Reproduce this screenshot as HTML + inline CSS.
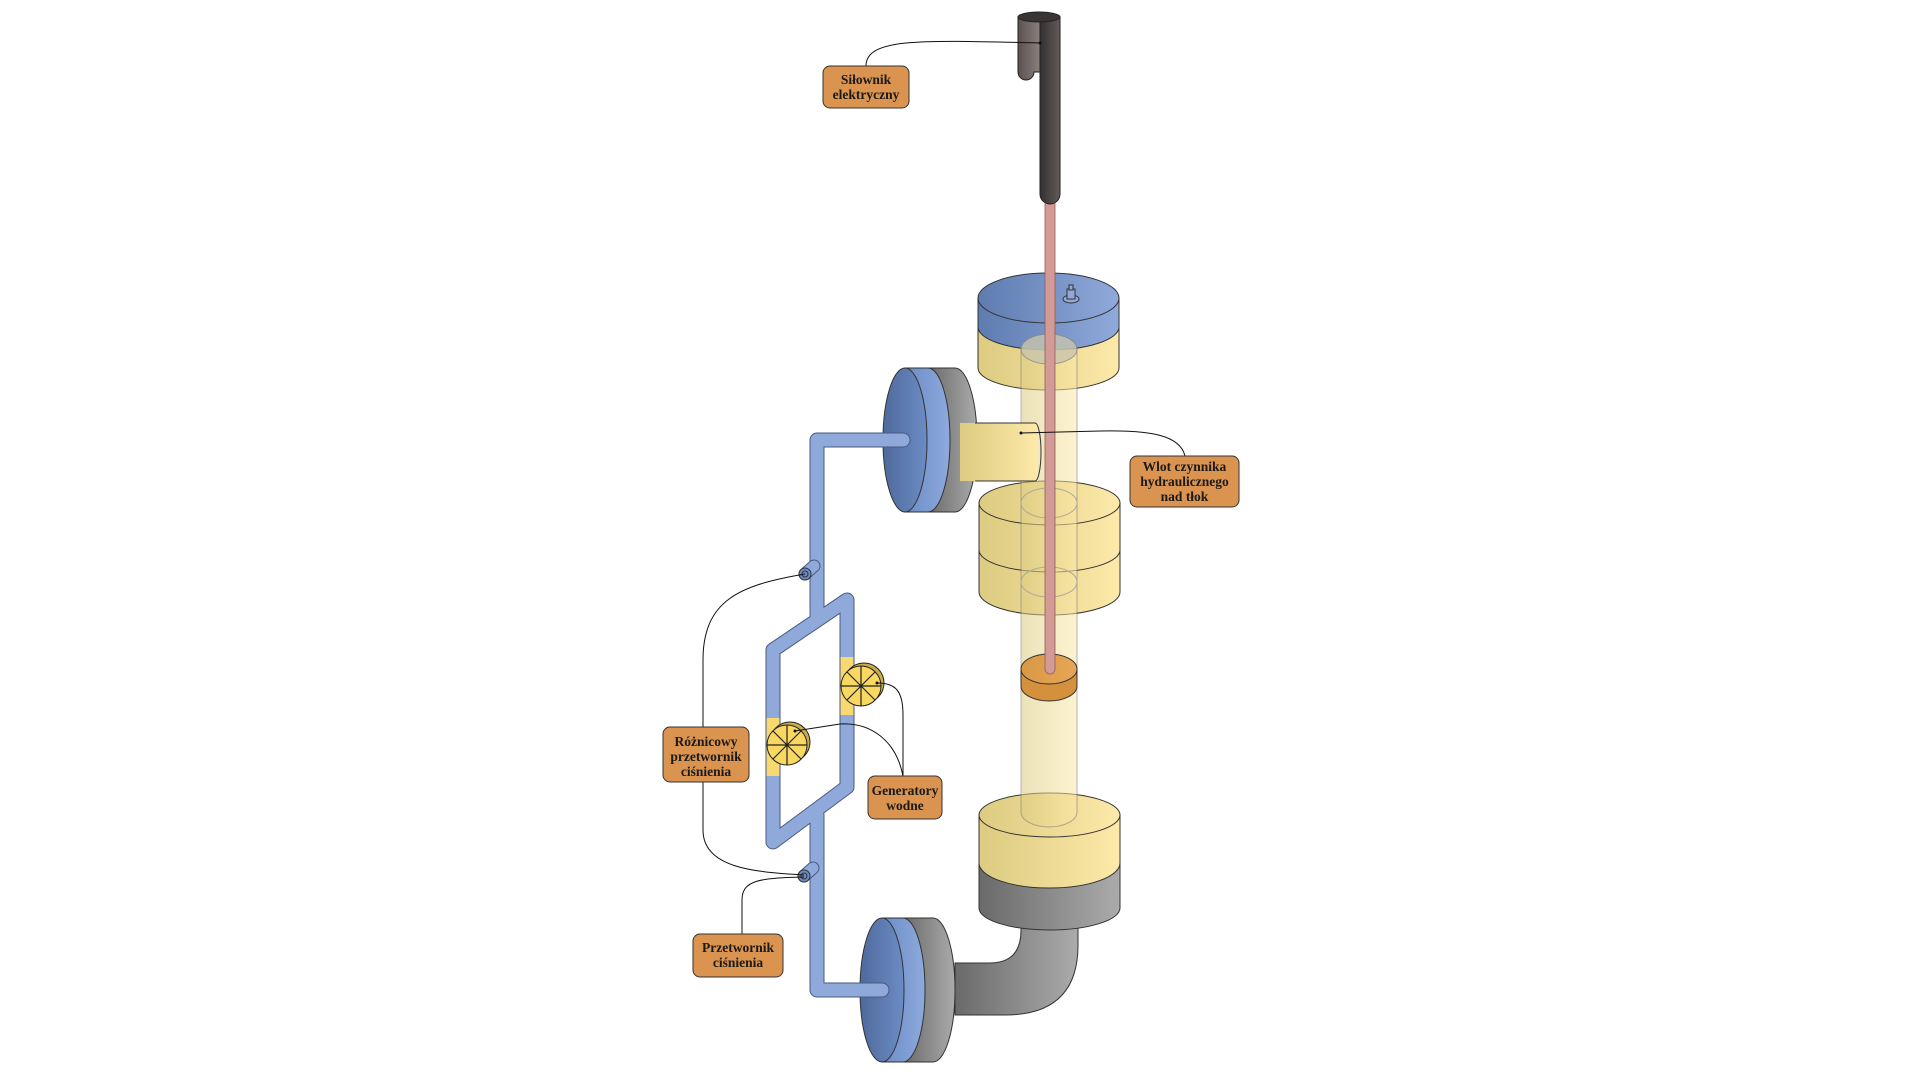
<!DOCTYPE html>
<html><head><meta charset="utf-8"><style>
html,body{margin:0;padding:0;background:#fff;}
svg{display:block;}
text{font-family:"Liberation Serif",serif;font-weight:bold;font-size:13.5px;fill:#1a1a1a;}
</style></head><body>
<svg width="1920" height="1080" viewBox="0 0 1920 1080" xmlns="http://www.w3.org/2000/svg">
<defs>
<linearGradient id="yel" x1="0" x2="1"><stop offset="0" stop-color="#dccb80"/><stop offset="1" stop-color="#fde9a9"/></linearGradient>
<linearGradient id="blu" x1="0" x2="1"><stop offset="0" stop-color="#5e7cb0"/><stop offset="1" stop-color="#8fa9da"/></linearGradient>
<linearGradient id="blu2" x1="0" x2="1"><stop offset="0" stop-color="#4f6a9c"/><stop offset="1" stop-color="#6b8cc4"/></linearGradient>
<linearGradient id="bluB" x1="0" x2="1"><stop offset="0" stop-color="#6a8cc6"/><stop offset="1" stop-color="#8eaadd"/></linearGradient>
<linearGradient id="gry" x1="0" x2="1"><stop offset="0" stop-color="#6a6a6a"/><stop offset="1" stop-color="#ababab"/></linearGradient>
<linearGradient id="act" x1="0" x2="1"><stop offset="0" stop-color="#353131"/><stop offset="1" stop-color="#625b59"/></linearGradient>
<linearGradient id="act2" x1="0" x2="1"><stop offset="0" stop-color="#5a5150"/><stop offset="1" stop-color="#8a807e"/></linearGradient>
<linearGradient id="org" x1="0" x2="1"><stop offset="0" stop-color="#d99844"/><stop offset="1" stop-color="#e5a656"/></linearGradient>
</defs>
<g stroke="#333" stroke-width="1">
<!-- elbow -->
<path d="M1021 915 L1021 930 Q1021 963 990 963 L955 963 L955 1015 L1005 1015 Q1078 1015 1078 945 L1078 915 Z" fill="url(#gry)"/>
<!-- bottom flange -->
<path d="M979 863 L979 908 A70.5 22 0 0 0 1120 908 L1120 863 Z" fill="url(#gry)"/>
<path d="M979 815 L979 863 A70.5 25 0 0 0 1120 863 L1120 815 Z" fill="url(#yel)"/>
<ellipse cx="1049.5" cy="815" rx="70.5" ry="22" fill="url(#yel)"/>
<!-- middle flange -->
<path d="M979 550 L979 592 A70.5 23 0 0 0 1120 592 L1120 550 Z" fill="url(#yel)"/>
<path d="M979 503 L979 550 A70.5 22 0 0 0 1120 550 L1120 503 Z" fill="url(#yel)"/>
<ellipse cx="1049.5" cy="503" rx="70.5" ry="22" fill="url(#yel)"/>
<!-- top flange -->
<path d="M978 327 L978 368 A70.5 22 0 0 0 1119 368 L1119 327 Z" fill="url(#yel)"/>
<path d="M978 298 L978 327 A70.5 23 0 0 0 1119 327 L1119 298 Z" fill="url(#blu)"/>
<ellipse cx="1048.5" cy="298" rx="70.5" ry="25" fill="url(#blu)"/>
<!-- knob -->
<ellipse cx="1071" cy="299" rx="8" ry="4" fill="#8fa9da"/>
<rect x="1067" y="289" width="8" height="10" fill="#8fa9da"/>
<rect x="1069" y="285" width="4" height="5" fill="#8fa9da"/>
<!-- inner tube translucent -->
<g opacity="0.55">
<path d="M1021 349 L1021 812 A28 15 0 0 0 1077 812 L1077 349 Z" fill="url(#yel)" stroke="#777"/>
</g>
<ellipse cx="1049" cy="349" rx="28" ry="15" fill="#c9c6ae" stroke="#888" opacity="0.8"/>
<ellipse cx="1049" cy="503" rx="28" ry="15" fill="none" stroke="#aa9"/>
<ellipse cx="1049" cy="582" rx="28" ry="15" fill="none" stroke="#aa9"/>
<!-- piston -->
<path d="M1021 669 L1021 686 A28 15 0 0 0 1077 686 L1077 669 Z" fill="#d4903c"/>
<ellipse cx="1049" cy="669" rx="28" ry="15" fill="url(#org)"/>
<!-- upper-left flange -->
<path d="M928 368 L955 368 A22 72 0 0 1 955 512 L928 512 Z" fill="url(#gry)"/>
<rect x="960" y="423" width="78" height="58" fill="url(#yel)" stroke="none"/>
<path d="M975 423 L1035 423 A6 29 0 0 1 1035 481 L975 481" fill="none"/>
<path d="M905 368 L928 368 A22 72 0 0 1 928 512 L905 512 Z" fill="url(#bluB)"/>
<ellipse cx="905" cy="440" rx="22" ry="72" fill="url(#blu2)"/>
<!-- bottom-left flange -->
<path d="M903 918 L933 918 A22 72 0 0 1 933 1062 L903 1062 Z" fill="url(#gry)"/>
<path d="M882 918 L903 918 A22 72 0 0 1 903 1062 L882 1062 Z" fill="url(#bluB)"/>
<ellipse cx="882" cy="990" rx="22" ry="72" fill="url(#blu2)"/>
</g>
<!-- pipes -->
<g fill="none" stroke-linejoin="round" stroke-linecap="round">
<g stroke="#4a5a80" stroke-width="15">
<path d="M903 440 L817 440 L817 615"/>
<path d="M773 650 L773 842 L847 787 L847 600 Z"/>
<path d="M817 815 L817 990 L882 990"/>
</g>
<g stroke="#8fa9da" stroke-width="13">
<path d="M903 440 L817 440 L817 615"/>
<path d="M773 650 L773 842 L847 787 L847 600 Z"/>
<path d="M817 815 L817 990 L882 990"/>
</g>
<g stroke="#f8d870" stroke-width="13" stroke-linecap="butt">
<path d="M773 718 L773 776"/>
<path d="M847 657 L847 715"/>
</g>
</g>
<!-- wheels -->
<g stroke="#222" stroke-width="1">
<circle cx="864" cy="683" r="20" fill="#c9ad4a"/>
<circle cx="861" cy="686" r="20" fill="#f8d860"/>
<path d="M841 686 H881 M861 666 V706 M847 672 L875 700 M875 672 L847 700" stroke-width="1.2"/>
<circle cx="790" cy="742" r="20" fill="#c9ad4a"/>
<circle cx="787" cy="745" r="20" fill="#f8d860"/>
<path d="M767 745 H807 M787 725 V765 M773 731 L801 759 M801 731 L773 759" stroke-width="1.2"/>
</g>
<!-- sensors -->
<g>
<path d="M805 574 L814 566" stroke="#4a5a80" stroke-width="13" stroke-linecap="round"/>
<path d="M805 574 L814 566" stroke="#8fa9da" stroke-width="11" stroke-linecap="round"/>
<circle cx="805" cy="574" r="6" fill="#6b8cc4" stroke="#333"/>
<circle cx="805" cy="574" r="3" fill="none" stroke="#333"/>
<path d="M804 876 L813 868" stroke="#4a5a80" stroke-width="13" stroke-linecap="round"/>
<path d="M804 876 L813 868" stroke="#8fa9da" stroke-width="11" stroke-linecap="round"/>
<circle cx="804" cy="876" r="6" fill="#6b8cc4" stroke="#333"/>
<circle cx="804" cy="876" r="3" fill="none" stroke="#333"/>
</g>
<!-- rod -->
<rect x="1045" y="198" width="10" height="476" rx="5" fill="#d49a96" stroke="#8a5f5c" stroke-width="0.8"/>
<!-- actuator -->
<g stroke="#222" stroke-width="1">
<path d="M1018 17 L1018 72 A8 8 0 0 0 1034 72 L1040 72 L1040 17 Z" fill="url(#act2)"/>
<path d="M1040 17 L1040 194 A8 8 0 0 0 1060 194 L1060 17 Z" fill="url(#act)"/>
<ellipse cx="1039" cy="17" rx="21" ry="5" fill="#3a3535"/>
</g>
<!-- leaders -->
<g fill="none" stroke="#111" stroke-width="1">
<path d="M866 66 C866 38 920 40 1040 43"/>
<path d="M1185 456 C1180 435 1150 430 1100 431 L1021 433"/>
<path d="M703 727 L703 660 C703 600 740 585 805 574"/>
<path d="M703 782 L703 830 C703 870 760 872 804 875"/>
<path d="M903 776 L903 715 C903 690 895 683 877 683"/>
<path d="M903 776 C896 740 870 722 840 724 L795 731"/>
<path d="M742 934 L742 900 C742 880 760 878 804 877"/>
</g>
<g fill="#111">
<circle cx="1040" cy="43" r="1.5"/><circle cx="1021" cy="433" r="1.5"/>
<circle cx="877" cy="683" r="1.5"/><circle cx="795" cy="731" r="1.5"/>
</g>
<!-- labels -->
<g fill="#db9350" stroke="#333" stroke-width="1">
<rect x="823" y="66" width="86" height="42" rx="7"/>
<rect x="1130" y="456" width="109" height="51" rx="7"/>
<rect x="663" y="727" width="86" height="55" rx="7"/>
<rect x="868" y="776" width="74" height="43" rx="7"/>
<rect x="693" y="934" width="90" height="43" rx="7"/>
</g>
<g text-anchor="middle">
<text x="866" y="84">Siłownik</text><text x="866" y="99">elektryczny</text>
<text x="1184.5" y="471">Wlot czynnika</text><text x="1184.5" y="486">hydraulicznego</text><text x="1184.5" y="501">nad tłok</text>
<text x="706" y="746">Różnicowy</text><text x="706" y="761">przetwornik</text><text x="706" y="776">ciśnienia</text>
<text x="905" y="795">Generatory</text><text x="905" y="810">wodne</text>
<text x="738" y="952">Przetwornik</text><text x="738" y="967">ciśnienia</text>
</g>
</svg>
</body></html>
